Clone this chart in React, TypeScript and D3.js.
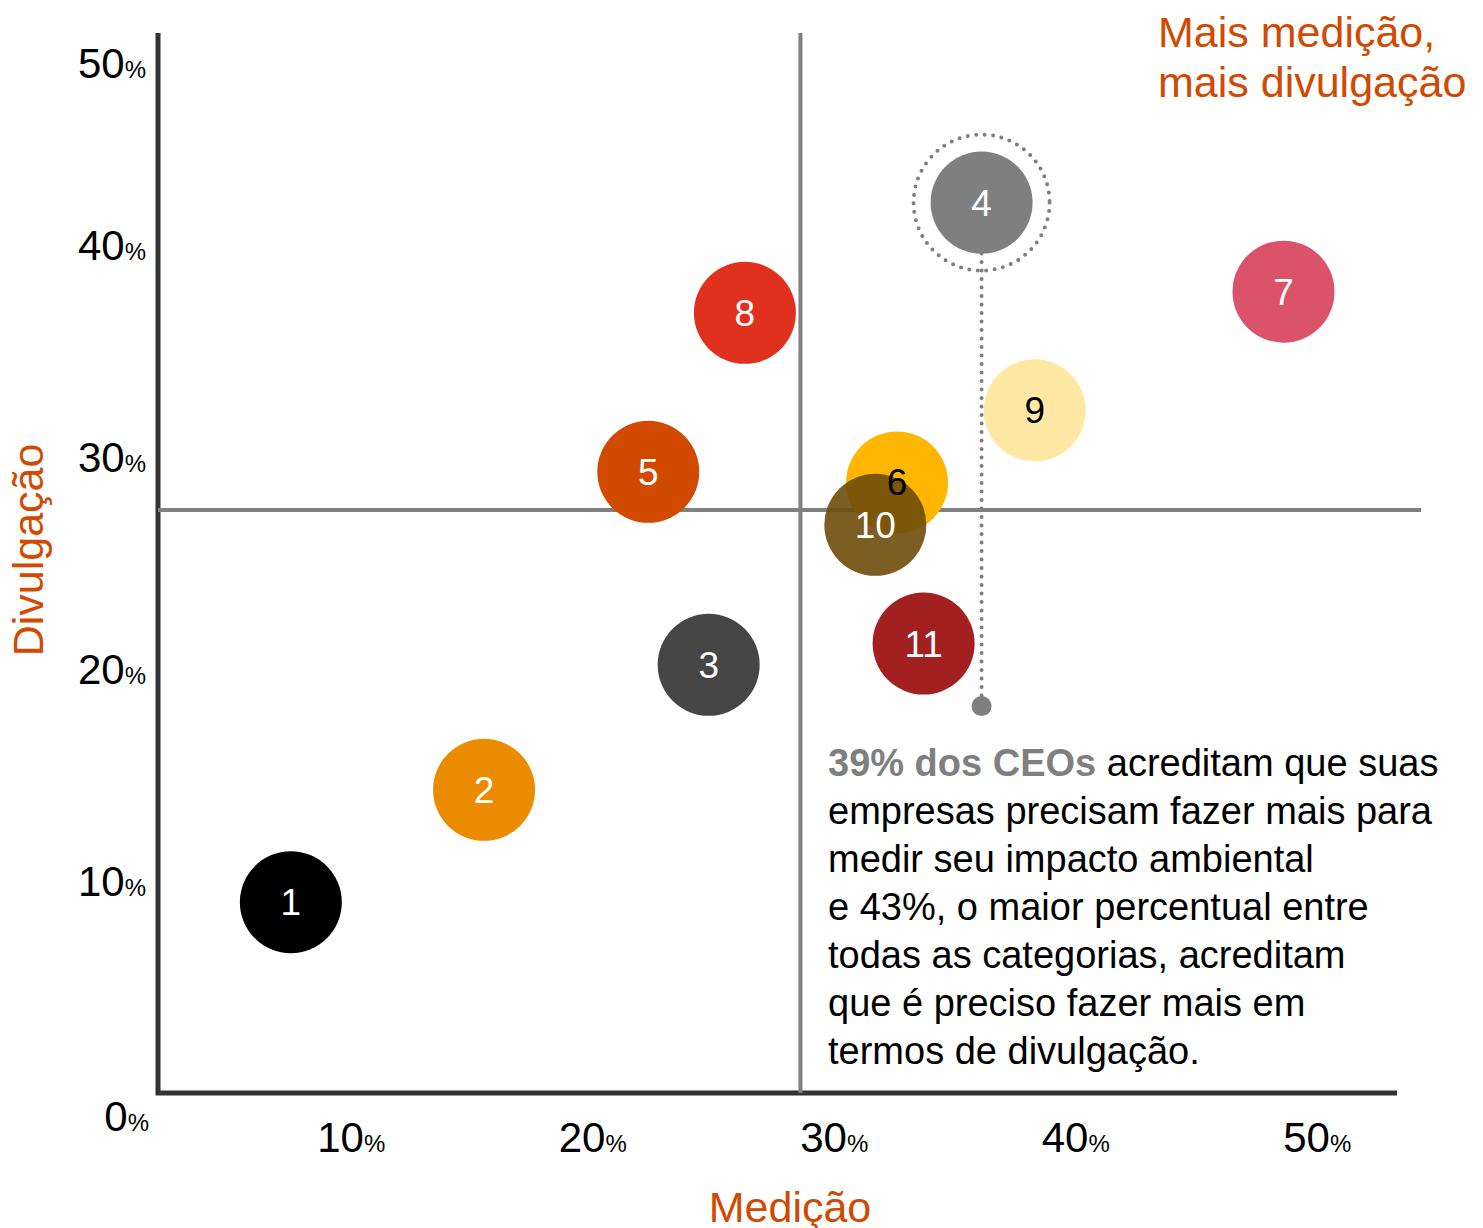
import { useEffect, useRef } from "react"
import * as d3 from "d3"

// Bubble data: id, medição (%), divulgação (%), colour, label colour
const ids = ["1", "2", "3", "4", "5", "6", "7", "8", "9", "10", "11"]
const medicao = [7.5, 15.5, 24.8, 36.1, 22.3, 32.6, 48.6, 26.3, 38.3, 31.7, 33.7]
const divulgacao = [9.0, 14.3, 20.2, 42.0, 29.3, 28.8, 37.8, 36.8, 32.2, 26.8, 21.2]
const fills = ["#000000", "#EB8C00", "#464646", "#7F7F7F", "#D04A02", "#FFB600", "#DB536A", "#E0301E", "#FFE8A3", "#6E4C0B", "#A32020"]
const textColors = ["#fff", "#fff", "#fff", "#fff", "#fff", "#000", "#fff", "#fff", "#000", "#fff", "#fff"]
const opacities = [1, 1, 1, 1, 1, 1, 1, 1, 1, 0.9, 1]

const xTicks = [10, 20, 30, 40, 50]
const yTicks = [10, 20, 30, 40, 50]

// averages (reference lines) and highlight
const avgMedicao = 28.6
const avgDivulgacao = 27.5
const highlightIndex = 3
const highlightEnd = 18.25

const noteLines = [
  "empresas precisam fazer mais para",
  "medir seu impacto ambiental",
  "e 43%, o maior percentual entre",
  "todas as categorias, acreditam",
  "que é preciso fazer mais em",
  "termos de divulgação.",
]

const ORANGE = "#D04A02"
const FONT = "'Liberation Sans', Arial, Helvetica, sans-serif"

export default function App() {
  const svgRef = useRef<SVGSVGElement>(null)

  useEffect(() => {
    if (!svgRef.current) return
    const svg = d3.select(svgRef.current)
    svg.selectAll("*").remove()

    const x = d3.scaleLinear().domain([2, 53.3]).range([158, 1397])
    const y = d3.scaleLinear().domain([0, 50]).range([1093, 33])
    const r = 51

    const g = svg.append("g").attr("font-family", FONT)

    // axes
    g.append("path")
      .attr("d", `M${x(2)},${y(50)} V${y(0)} H${x(53.3)}`)
      .attr("fill", "none")
      .attr("stroke", "#333")
      .attr("stroke-width", 5)

    // reference lines
    g.append("line")
      .attr("x1", x(avgMedicao))
      .attr("x2", x(avgMedicao))
      .attr("y1", y(50))
      .attr("y2", y(0))
      .attr("stroke", "#808080")
      .attr("stroke-width", 4)
    g.append("line")
      .attr("x1", x(2))
      .attr("x2", x(54.3))
      .attr("y1", y(avgDivulgacao))
      .attr("y2", y(avgDivulgacao))
      .attr("stroke", "#808080")
      .attr("stroke-width", 4)

    // tick labels
    const tickText = (sel: d3.Selection<SVGTextElement, number, SVGGElement, unknown>) => {
      sel.append("tspan").attr("font-size", 42).text((d) => d)
      sel.append("tspan").attr("font-size", 24).text("%")
    }
    g.append("g")
      .selectAll("text")
      .data(xTicks)
      .join("text")
      .attr("x", (d) => x(d))
      .attr("y", y(0) + 59)
      .attr("text-anchor", "middle")
      .attr("fill", "#000")
      .call(tickText)
    g.append("g")
      .selectAll("text")
      .data(yTicks)
      .join("text")
      .attr("x", 146)
      .attr("y", (d) => (d === 50 ? y(d) + 45 : y(d) + 15))
      .attr("text-anchor", "end")
      .attr("fill", "#000")
      .call(tickText)
    g.append("g")
      .selectAll("text")
      .data([0])
      .join("text")
      .attr("x", 149)
      .attr("y", y(0) + 38)
      .attr("text-anchor", "end")
      .attr("fill", "#000")
      .call(tickText)

    // axis titles
    g.append("text")
      .attr("transform", `translate(43,${(y(0) + y(50)) / 2 - 13}) rotate(-90)`)
      .attr("text-anchor", "middle")
      .attr("font-size", 43)
      .attr("fill", ORANGE)
      .text("Divulgação")
    g.append("text")
      .attr("x", 790)
      .attr("y", 1222)
      .attr("text-anchor", "middle")
      .attr("font-size", 43)
      .attr("fill", ORANGE)
      .text("Medição")
    const corner = g.append("text").attr("font-size", 43).attr("fill", ORANGE)
    corner.append("tspan").attr("x", 1158).attr("y", 47).text("Mais medição,")
    corner.append("tspan").attr("x", 1158).attr("y", 97).text("mais divulgação")

    // highlight: dotted ring + dotted leader line
    const hx = x(medicao[highlightIndex])
    const hy = y(divulgacao[highlightIndex])
    g.append("circle")
      .attr("cx", hx)
      .attr("cy", hy)
      .attr("r", 68)
      .attr("fill", "none")
      .attr("stroke", "#7F7F7F")
      .attr("stroke-width", 4)
      .attr("stroke-linecap", "round")
      .attr("stroke-dasharray", "0 8.5")
    g.append("line")
      .attr("x1", hx)
      .attr("x2", hx)
      .attr("y1", hy)
      .attr("y2", y(highlightEnd))
      .attr("stroke", "#7F7F7F")
      .attr("stroke-width", 4)
      .attr("stroke-linecap", "round")
      .attr("stroke-dasharray", "0 8.5")
    g.append("circle").attr("cx", hx).attr("cy", y(highlightEnd)).attr("r", 10).attr("fill", "#7F7F7F")

    // bubbles
    const idx = d3.range(ids.length)
    g.append("g")
      .selectAll("circle")
      .data(idx)
      .join("circle")
      .attr("cx", (i) => x(medicao[i]))
      .attr("cy", (i) => y(divulgacao[i]))
      .attr("r", r)
      .attr("fill", (i) => fills[i])
      .attr("fill-opacity", (i) => opacities[i])
    g.append("g")
      .selectAll("text")
      .data(idx)
      .join("text")
      .attr("x", (i) => x(medicao[i]))
      .attr("y", (i) => y(divulgacao[i]) + 13)
      .attr("text-anchor", "middle")
      .attr("font-size", 37)
      .attr("fill", (i) => textColors[i])
      .text((i) => ids[i])

    // note
    const note = g.append("text").attr("font-size", 38).attr("fill", "#000")
    const first = note.append("tspan").attr("x", 828).attr("y", 776)
    first.append("tspan").attr("font-weight", "bold").attr("fill", "#7F7F7F").text("39% dos CEOs")
    first.append("tspan").text(" acreditam que suas")
    noteLines.forEach((line, i) => {
      note.append("tspan").attr("x", 828).attr("y", 776 + 48 * (i + 1)).text(line)
    })
  }, [])

  return (
    <svg
      ref={svgRef}
      width={1483}
      height={1228}
      style={{ position: "absolute", left: 0, top: 0, background: "#fff" }}
    />
  )
}
